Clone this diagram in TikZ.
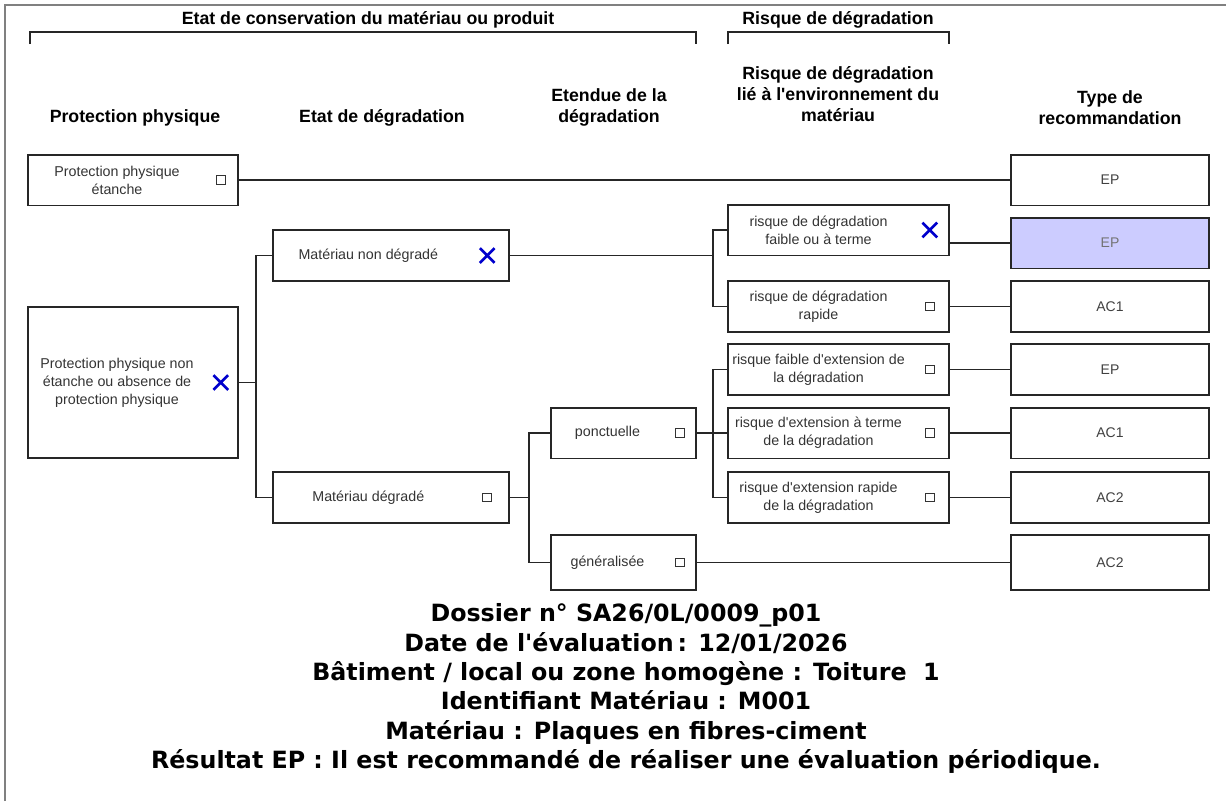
\documentclass[tikz,border=0pt]{standalone}
\usepackage{fontspec}
\setmainfont{Liberation Sans}
\newfontfamily\diag{Liberation Sans}
\newfontfamily\infofont{DejaVu Sans}
\usetikzlibrary{shapes.misc}

\tikzset{
  boite/.style={draw=black!85, line width=1.25pt, minimum height=38pt, inner sep=0pt},
  pp/.style={boite, minimum width=157.5pt},
  etat/.style={boite, minimum width=177pt},
  etendue/.style={boite, minimum width=108.75pt},
  risque/.style={boite, minimum width=165.75pt},
  reco/.style={boite, minimum width=148.5pt, font=\diag\fontsize{10.5}{13}\selectfont, text=black!75},
  txt/.style={font=\diag\fontsize{10.7}{13.5}\selectfont, text=black!80, align=center, inner sep=0pt},
  case/.style={draw=black!80, line width=0.8pt, minimum size=6.5pt, inner sep=0pt},
  coche/.style={cross out, draw=blue!80!black, line width=2pt, minimum size=9pt, inner sep=0pt},
  titre/.style={font=\diag\fontsize{13.3}{16}\selectfont\bfseries, align=center},
  lien/.style={line width=1.15pt, black!85}
}

\begin{document}
\begin{tikzpicture}[x=0.75pt, y=-0.75pt]
    \useasboundingbox (0,0) rectangle (1226,801);
    % Cadre
    \draw[gray, line width=1.5pt] (5,801) -- (5,5) -- (1226,5);

    % Titres des groupes et accolades
    \node[titre] (g1) at (368,20) {Etat de conservation du matériau ou produit};
    \draw[lien] (30,44) -- (30,32) -- (696,32) -- (696,44);
    \node[titre] (g2) at (838,20) {Risque de dégradation};
    \draw[lien] (728,44) -- (728,32) -- (949,32) -- (949,44);

    % Titres des colonnes
    \node[titre] (c1) at (135,118) {Protection physique};
    \node[titre] (c2) at (382,118) {Etat de dégradation};
    \node[titre] (c3) at (609,107.5) {Etendue de la\\dégradation};
    \node[titre] (c4) at (838,94) {Risque de dégradation\\lié à l'environnement du\\matériau};
    \node[titre] (c5) at (1110,107.5) {Type de\\recommandation};

    % Protection physique
    \node[pp] (ppe) at (133,180) {};
    \node[txt] (ppe-t) at ([xshift=-12pt]ppe.center) {Protection physique\\étanche};
    \node[case] (ppe-c) at ([xshift=-13.5pt]ppe.east) {};
    \node[pp, minimum height=113pt] (ppne) at (133,382.5) {};
    \node[txt] (ppne-t) at ([xshift=-12pt]ppne.center) {Protection physique non\\étanche ou absence de\\protection physique};
    \node[coche] (ppne-c) at ([xshift=-13.5pt]ppne.east) {};

    % Etat de degradation
    \node[etat] (mnd) at (391,255.5) {};
    \node[txt] (mnd-t) at ([xshift=-17pt]mnd.center) {Matériau non dégradé};
    \node[coche] (mnd-c) at ([xshift=-17pt]mnd.east) {};
    \node[etat] (md) at (391,497.5) {};
    \node[txt] (md-t) at ([xshift=-17pt]md.center) {Matériau dégradé};
    \node[case] (md-c) at ([xshift=-17pt]md.east) {};

    % Etendue
    \node[etendue] (ponc) at (623.5,433) {};
    \node[txt] (ponc-t) at ([xshift=-12pt]ponc.center) {ponctuelle};
    \node[case] (ponc-c) at ([xshift=-12.75pt]ponc.east) {};
    \node[etendue, minimum height=41pt] (gen) at (623.5,562.5) {};
    \node[txt] (gen-t) at ([xshift=-12pt]gen.center) {généralisée};
    \node[case] (gen-c) at ([xshift=-12.75pt]gen.east) {};

    % Risque de degradation
    \node[risque] (r1) at (838.5,230) {};
    \node[txt] (r1-t) at ([xshift=-15pt]r1.center) {risque de dégradation\\faible ou à terme};
    \node[coche] (r1-c) at ([xshift=-15pt]r1.east) {};
    \node[risque] (r2) at (838.5,306.5) {};
    \node[txt] (r2-t) at ([xshift=-15pt]r2.center) {risque de dégradation\\rapide};
    \node[case] (r2-c) at ([xshift=-15pt]r2.east) {};
    \node[risque] (r3) at (838.5,369.5) {};
    \node[txt] (r3-t) at ([xshift=-15pt]r3.center) {risque faible d'extension de\\la dégradation};
    \node[case] (r3-c) at ([xshift=-15pt]r3.east) {};
    \node[risque] (r4) at (838.5,433) {};
    \node[txt] (r4-t) at ([xshift=-15pt]r4.center) {risque d'extension à terme\\de la dégradation};
    \node[case] (r4-c) at ([xshift=-15pt]r4.east) {};
    \node[risque] (r5) at (838.5,497.5) {};
    \node[txt] (r5-t) at ([xshift=-15pt]r5.center) {risque d'extension rapide\\de la dégradation};
    \node[case] (r5-c) at ([xshift=-15pt]r5.east) {};

    % Type de recommandation
    \node[reco] (rec1) at (1110,180) {EP};
    \node[reco, fill=blue!20, text=black!55] (rec2) at (1110,243) {EP};
    \node[reco] (rec3) at (1110,306.5) {AC1};
    \node[reco] (rec4) at (1110,369.5) {EP};
    \node[reco] (rec5) at (1110,433) {AC1};
    \node[reco] (rec6) at (1110,497.5) {AC2};
    \node[reco, minimum height=41pt] (rec7) at (1110,562.5) {AC2};

    % Liaisons
    \draw[lien] (ppe) -- (rec1);
    \draw[lien] (ppne.east) -- ++(17,0) coordinate (j1);
    \draw[lien] (mnd.west) -| (j1) |- (md.west);
    \draw[lien] (r1.west) -- ++(-14,0) coordinate (j2) |- (r2.west);
    \draw[lien] (mnd.east) -- (mnd.east -| j2);
    \draw[lien] (rec2.west) -- (rec2.west -| r1.east);
    \draw[lien] (r2) -- (rec3);
    \draw[lien] (ponc.west) -- ++(-21,0) coordinate (j3) |- (gen.west);
    \draw[lien] (md.east) -- (md.east -| j3);
    \draw[lien] (r3.west) -- ++(-14,0) coordinate (j4) |- (r5.west);
    \draw[lien] (ponc) -- (r4);
    \draw[lien] (r3) -- (rec4);
    \draw[lien] (r4) -- (rec5);
    \draw[lien] (r5) -- (rec6);
    \draw[lien] (gen) -- (rec7);

    % Informations du dossier
    \node[font=\infofont\bfseries\fontsize{17.8}{22}\selectfont, align=center] (info) at (626,688.5)
        {Dossier n° SA26/0L/0009\_p01\\
         Date de l'évaluation\,: 12/01/2026\\
         Bâtiment / local ou zone homogène : Toiture~~1\\
         Identifiant Matériau : M001\\
         Matériau : Plaques en fibres-ciment\\
         Résultat EP : Il est recommandé de réaliser une évaluation périodique.};
\end{tikzpicture}
\end{document}
